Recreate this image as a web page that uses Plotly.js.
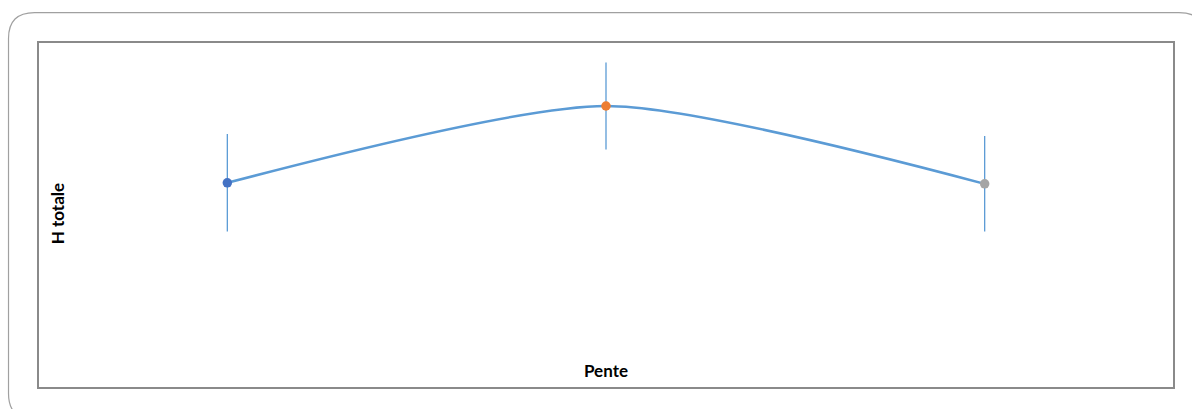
<!DOCTYPE html>
<html>
<head>
<meta charset="utf-8">
<script src="https://cdn.plot.ly/plotly-3.0.1.min.js"></script>
<style>html,body{margin:0;padding:0;background:#fff;}#chart{width:1192px;height:409px;}</style>
</head>
<body>
<div id="chart"></div>
<script>
// Data (H totale vs Pente, no tick labels shown in the original)
const categories = [0, 1, 2];
const hTotale = [5.93, 8.15, 5.90];
const errors = [1.41, 1.26, 1.38];
const markerColors = ['#4472C4', '#ED7D31', '#A5A5A5'];
const xTitle = 'Pente';
const yTitle = 'H totale';

const W = 1192, H = 409;
const L = 37.5, R = 1174, T = 42, B = 388.5;
const pw = R - L, ph = B - T;
const px = x => (x - L) / pw;
const py = y => (B - y) / ph;

// outer rounded border (partly cut off by the image edge)
const oL = 8, oT = 12.5, oR = 1205, oB = 420, rad = 26;
const outerPath = [
  'M', px(oL), py(oT + rad),
  'Q', px(oL), py(oT), px(oL + rad), py(oT),
  'L', px(oR - rad), py(oT),
  'Q', px(oR), py(oT), px(oR), py(oT + rad),
  'L', px(oR), py(oB - rad),
  'Q', px(oR), py(oB), px(oR - rad), py(oB),
  'L', px(oL + rad), py(oB),
  'Q', px(oL), py(oB), px(oL), py(oB - rad),
  'Z'
].join(' ');

const trace = {
  x: categories,
  y: hTotale,
  type: 'scatter',
  mode: 'lines+markers',
  line: {color: '#5B9BD5', width: 2.5, shape: 'spline', smoothing: 0.68},
  marker: {color: markerColors, size: 9.5},
  error_y: {type: 'data', array: errors, visible: true, color: '#5B9BD5', thickness: 1.3, width: 0},
  hoverinfo: 'none'
};

const titleFont = {size: 17, family: 'Lato, Open Sans, sans-serif', color: '#000'};

const layout = {
  width: W, height: H,
  margin: {l: L, r: W - R, t: T, b: H - B, pad: 0},
  paper_bgcolor: '#ffffff',
  plot_bgcolor: '#ffffff',
  showlegend: false,
  font: {family: 'Lato, Open Sans, sans-serif', color: '#000'},
  xaxis: {range: [-0.5, 2.5], showgrid: false, zeroline: false, showticklabels: false, ticks: '', showline: false, fixedrange: true},
  yaxis: {range: [0, 10], showgrid: false, zeroline: false, showticklabels: false, ticks: '', showline: false, fixedrange: true},
  shapes: [
    {type: 'rect', xref: 'paper', yref: 'paper', x0: 0, x1: 1, y0: 0, y1: 1, line: {color: '#8a8a8a', width: 2}, layer: 'below'},
    {type: 'path', xref: 'paper', yref: 'paper', path: outerPath, line: {color: '#a0a0a0', width: 1.2}, layer: 'below'}
  ],
  annotations: [
    {text: '<b>' + xTitle + '</b>', xref: 'paper', yref: 'paper', x: px(606), y: py(371), showarrow: false, font: titleFont, xanchor: 'center', yanchor: 'middle'},
    {text: '<b>' + yTitle + '</b>', xref: 'paper', yref: 'paper', x: px(57), y: py(214), textangle: -90, showarrow: false, font: titleFont, xanchor: 'center', yanchor: 'middle'}
  ]
};

Plotly.newPlot('chart', [trace], layout, {displayModeBar: false, staticPlot: true});
</script>
</body>
</html>
